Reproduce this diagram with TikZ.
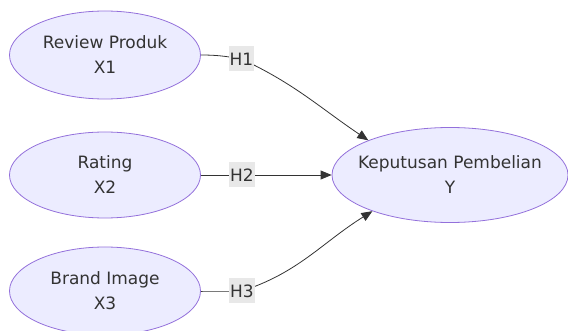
\documentclass[tikz,border=0pt]{standalone}
\usepackage{fontspec}
\setmainfont{DejaVu Sans}
\usetikzlibrary{arrows.meta,shapes.geometric}
\definecolor{nodefill}{HTML}{ECECFF}
\definecolor{nodeline}{HTML}{9370DB}
\definecolor{txt}{HTML}{333333}
\definecolor{lblfill}{HTML}{E8E8E8}
\begin{document}
\begin{tikzpicture}[x=1pt,y=-1pt,
  var/.style={ellipse,draw=nodeline,fill=nodefill,line width=0.8pt,
    inner sep=-30pt,text=txt,align=center,font=\fontsize{17}{25}\selectfont},
  hyp/.style={fill=lblfill,text=txt,inner sep=1pt,minimum height=25pt,
    font=\fontsize{17}{20}\selectfont},
  link/.style={draw=txt,line width=0.8pt},
  tip/.style={-{Triangle[length=11pt,width=9pt]}}]
\useasboundingbox (0,0) rectangle (568,331);
\node[var,minimum width=191pt,minimum height=88pt] (x1) at (105,55) {Review Produk\\X1};
\node[var,minimum width=191pt,minimum height=86pt] (x2) at (105,175) {Rating\\X2};
\node[var,minimum width=191pt,minimum height=88pt] (x3) at (105,291) {Brand Image\\X3};
\node[var,minimum width=236pt,minimum height=95pt] (y) at (450,175) {Keputusan Pembelian\\Y};
\coordinate (c1) at (241.5,59);
\coordinate (c2) at (242,175);
\coordinate (c3) at (242,291);
\draw[link] (x1.east) to[out=0,in=170] (c1);
\draw[link,tip] (c1) to[out=-25,in=146] (y.157);
\draw[link] (x2.east) -- (c2);
\draw[link,tip] (c2) -- (y.west);
\draw[link] (x3.east) to[out=0,in=180] (c3);
\draw[link,tip] (c3) to[out=18,in=-148] (y.-155);
\node[hyp] (h1) at (c1) {H1};
\node[hyp] (h2) at (c2) {H2};
\node[hyp] (h3) at (c3) {H3};
\end{tikzpicture}
\end{document}
